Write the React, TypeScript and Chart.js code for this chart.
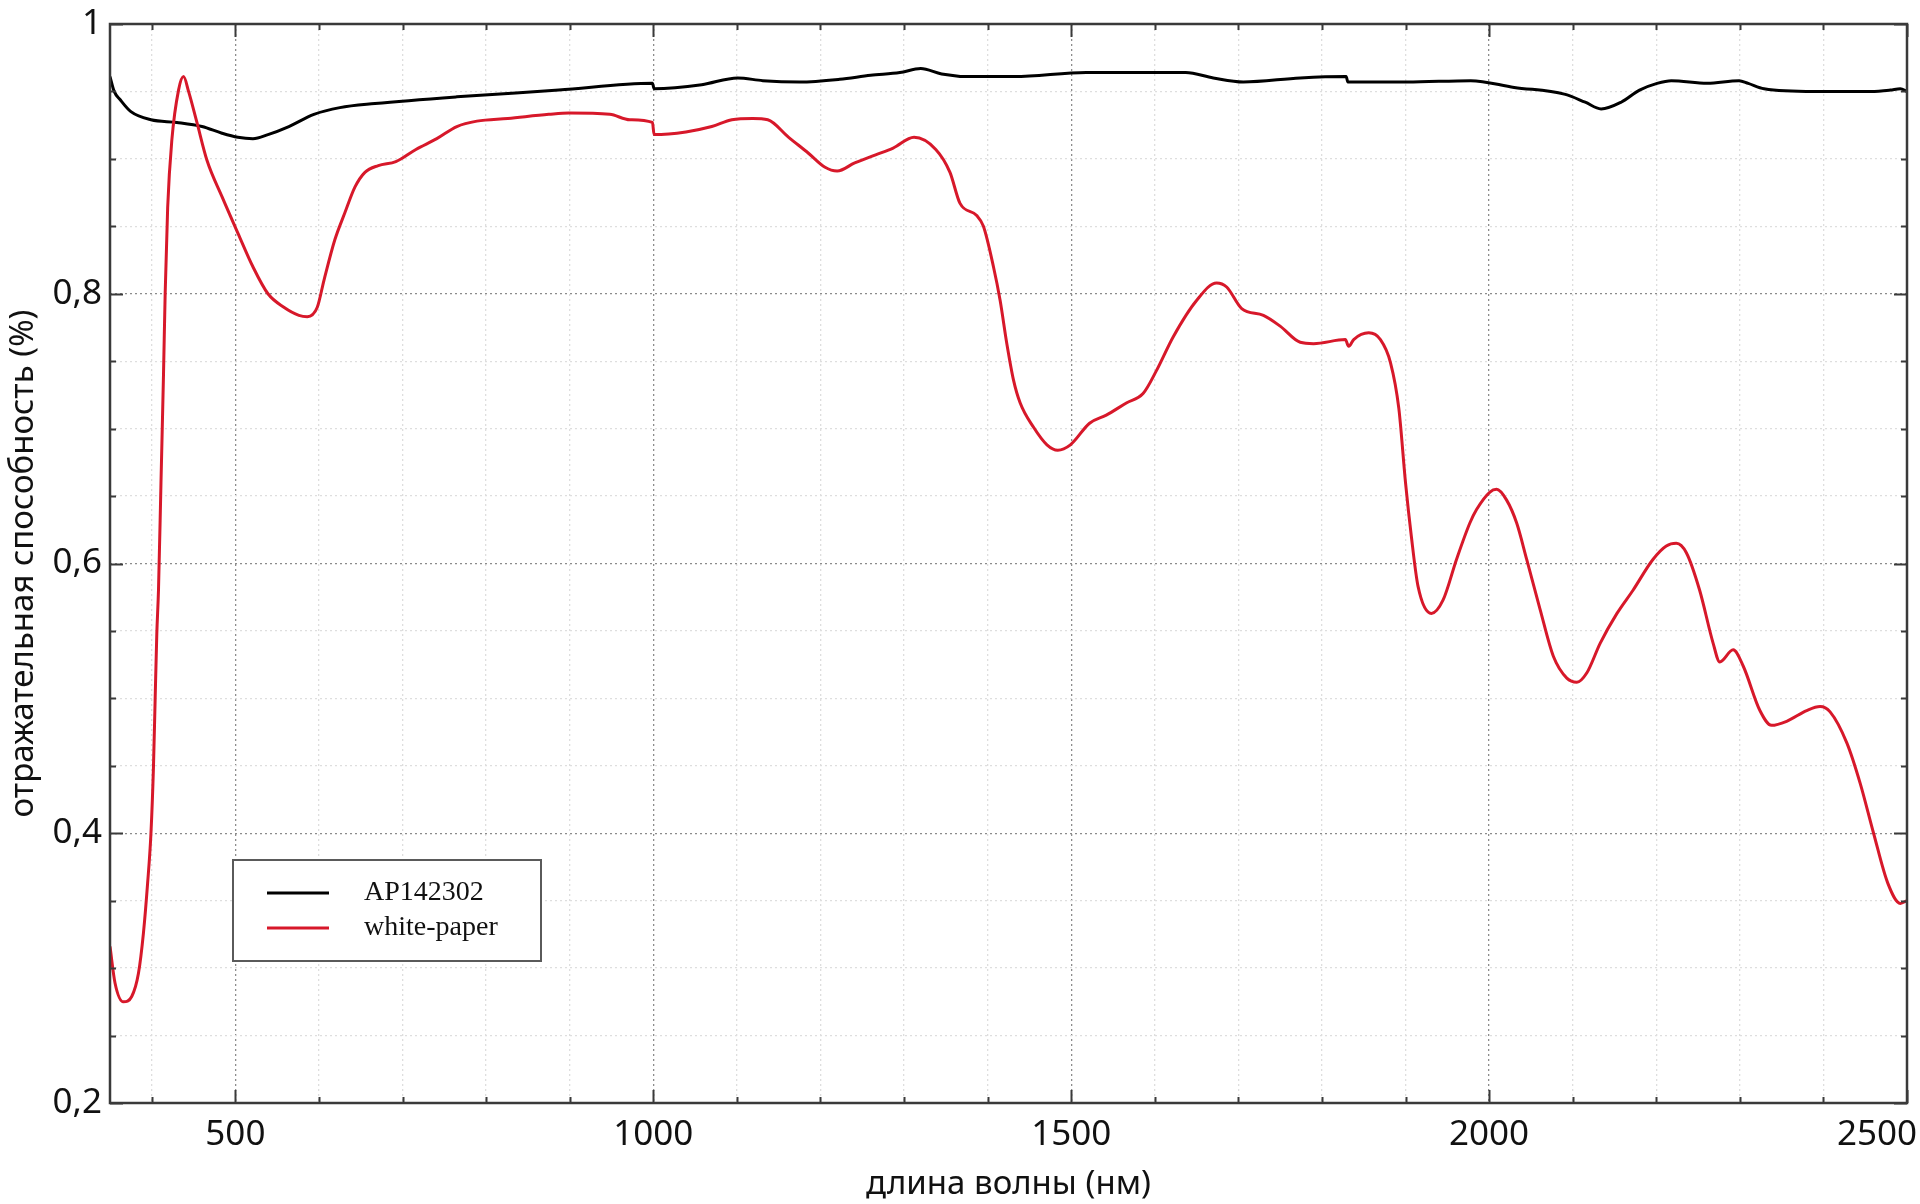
import React, { useEffect, useRef } from "react";
import { Chart, registerables } from "chart.js";

Chart.register(...registerables);

// ---- data ----
const seriesLabels = ["AP142302", "white-paper"];
const seriesColors = ["#000000", "#d7182a"];

const apWavelengths = [
  350, 355, 362, 375, 399, 430, 460, 484, 503, 521, 539, 564, 594, 625, 667, 765, 887, 999, 1001,
  1058, 1101, 1131, 1175, 1223, 1260, 1295, 1320, 1345, 1380, 1432, 1518, 1603, 1637, 1670, 1706,
  1774, 1829, 1831, 1902, 1978, 2030, 2090, 2115, 2134, 2158, 2180, 2201, 2218, 2261, 2299, 2310,
  2329, 2389, 2457, 2480, 2492, 2500,
];
const apValues = [
  0.961, 0.95, 0.944, 0.935, 0.929, 0.927, 0.924, 0.919, 0.916, 0.915, 0.918, 0.924, 0.933, 0.938,
  0.941, 0.946, 0.951, 0.956, 0.952, 0.955, 0.96, 0.958, 0.957, 0.959, 0.962, 0.964, 0.967, 0.963,
  0.961, 0.961, 0.964, 0.964, 0.964, 0.96, 0.957, 0.96, 0.961, 0.957, 0.957, 0.958, 0.953, 0.948,
  0.942, 0.937, 0.942, 0.951, 0.956, 0.958, 0.956, 0.958, 0.956, 0.952, 0.95, 0.95, 0.951, 0.952,
  0.95,
];

const paperWavelengths = [
  350, 356, 366, 376, 384, 390, 395, 399, 402, 404, 406, 408, 411, 414, 416, 419, 424, 432, 438,
  444, 454, 466, 484, 503, 521, 539, 558, 576, 586, 598, 606, 619, 631, 643, 655, 671, 692, 716,
  741, 765, 789, 826, 875, 899, 948, 972, 999, 1001, 1039, 1070, 1094, 1119, 1137, 1162, 1186,
  1205, 1220, 1241, 1266, 1287, 1312, 1338, 1355, 1367, 1387, 1395, 1407, 1415, 1423, 1431, 1439,
  1455, 1471, 1484, 1499, 1522, 1542, 1566, 1586, 1602, 1622, 1650, 1674, 1686, 1704, 1730, 1750,
  1774, 1790, 1828, 1832, 1838, 1856, 1870, 1882, 1892, 1900, 1907, 1915, 1931, 1945, 1961, 1977,
  1985, 2001, 2009, 2021, 2033, 2045, 2061, 2077, 2093, 2105, 2117, 2133, 2153, 2172, 2196, 2212,
  2224, 2236, 2252, 2268, 2276, 2292, 2304, 2324, 2338, 2356, 2380, 2396, 2408, 2428, 2444, 2460,
  2477, 2492, 2500,
];
const paperValues = [
  0.316, 0.289, 0.275, 0.279, 0.296, 0.326, 0.363, 0.4, 0.449, 0.499, 0.548, 0.58, 0.66, 0.74,
  0.8, 0.864, 0.914, 0.951, 0.961, 0.95, 0.927, 0.899, 0.872, 0.845, 0.82, 0.8, 0.79, 0.784, 0.783,
  0.79, 0.81, 0.84, 0.86, 0.879, 0.89, 0.895, 0.898, 0.907, 0.915, 0.924, 0.928, 0.93, 0.933,
  0.934, 0.933, 0.929, 0.927, 0.918, 0.92, 0.924, 0.929, 0.93, 0.929, 0.916, 0.904, 0.894, 0.891,
  0.897, 0.903, 0.908, 0.916, 0.907, 0.89, 0.867, 0.858, 0.85, 0.82, 0.795, 0.763, 0.736, 0.719,
  0.701, 0.688, 0.684, 0.688, 0.704, 0.71, 0.719, 0.726, 0.743, 0.768, 0.795, 0.808, 0.805, 0.789,
  0.784, 0.776, 0.764, 0.763, 0.766, 0.761, 0.766, 0.771, 0.766, 0.749, 0.715, 0.66, 0.62, 0.583,
  0.563, 0.573, 0.603, 0.63, 0.64, 0.653, 0.655, 0.647, 0.63, 0.603, 0.566, 0.531, 0.515, 0.512,
  0.519, 0.541, 0.563, 0.58, 0.603, 0.613, 0.615, 0.608, 0.58, 0.541, 0.527, 0.536, 0.524, 0.491,
  0.48, 0.483, 0.491, 0.494, 0.49, 0.467, 0.437, 0.4, 0.363, 0.348, 0.35,
];

const xTickValues = [
  400, 500, 600, 700, 800, 900, 1000, 1100, 1200, 1300, 1400, 1500, 1600, 1700, 1800, 1900, 2000,
  2100, 2200, 2300, 2400, 2500,
];
const xLabelValues = [500, 1000, 1500, 2000, 2500];
const yTickValues = [
  0.2, 0.25, 0.3, 0.35, 0.4, 0.45, 0.5, 0.55, 0.6, 0.65, 0.7, 0.75, 0.8, 0.85, 0.9, 0.95, 1,
];
const yLabelValues = [0.2, 0.4, 0.6, 0.8, 1];
const yLabelTexts = ["0,2", "0,4", "0,6", "0,8", "1"];

const xTitle = "длина волны (нм)";
const yTitle = "отражательная способность (%)";

const X_MIN = 350;
const X_MAX = 2500;
const Y_MIN = 0.2;
const Y_MAX = 1;

const near = (a: number, b: number) => Math.abs(a - b) < 1e-6;
const isXMajor = (v: number) => xLabelValues.some((m) => near(m, v));
const isYMajor = (v: number) => yLabelValues.some((m) => near(m, v));

const TICK_FONT = "'Noto Sans', 'Liberation Sans', sans-serif";

const framePlugin = {
  id: "frameAndLegend",
  beforeDraw(chart: any) {
    // keep the last x label inside the canvas (right aligned), as in the reference
    const xs = chart.scales.x;
    const items = xs.getLabelItems(chart.chartArea);
    for (const it of items) {
      if (it.label === String(X_MAX)) {
        it.options.textAlign = "right";
        it.options.translation = [chart.width - 3, it.options.translation[1]];
      }
    }
  },
  afterDraw(chart: any) {
    const ctx = chart.ctx;
    const { left, right, top, bottom } = chart.chartArea;
    const xs = chart.scales.x;
    const ys = chart.scales.y;
    ctx.save();
    ctx.strokeStyle = "#3a3a3a";
    ctx.lineWidth = 2;
    // inward tick marks on all four sides
    for (const t of xs.ticks) {
      const px = Math.round(xs.getPixelForValue(t.value)) + 0.5;
      const len = isXMajor(t.value) ? 13 : 6;
      ctx.beginPath();
      ctx.moveTo(px, bottom);
      ctx.lineTo(px, bottom - len);
      ctx.moveTo(px, top);
      ctx.lineTo(px, top + len);
      ctx.stroke();
    }
    for (const t of ys.ticks) {
      const py = Math.round(ys.getPixelForValue(t.value)) + 0.5;
      const len = isYMajor(t.value) ? 13 : 6;
      ctx.beginPath();
      ctx.moveTo(left, py);
      ctx.lineTo(left + len, py);
      ctx.moveTo(right, py);
      ctx.lineTo(right - len, py);
      ctx.stroke();
    }
    // frame
    ctx.lineWidth = 2.5;
    ctx.strokeRect(left, top, right - left, bottom - top);

    // legend box (bottom-left, inside the plot)
    const bx = 233;
    const by = 860;
    const bw = 308;
    const bh = 101;
    ctx.fillStyle = "#ffffff";
    ctx.fillRect(bx, by, bw, bh);
    ctx.strokeStyle = "#5a5a5a";
    ctx.lineWidth = 2;
    ctx.strokeRect(bx, by, bw, bh);
    chart.data.datasets.forEach((ds: any, i: number) => {
      const cy = by + 33 + i * 35;
      ctx.strokeStyle = ds.borderColor;
      ctx.lineWidth = 3;
      ctx.beginPath();
      ctx.moveTo(bx + 34, cy);
      ctx.lineTo(bx + 96, cy);
      ctx.stroke();
      ctx.fillStyle = "#111111";
      ctx.font = "28px 'Liberation Serif', 'Times New Roman', serif";
      ctx.textAlign = "left";
      ctx.textBaseline = "middle";
      ctx.fillText(ds.label, bx + 131, cy);
    });
    ctx.restore();
  },
};

export default function App() {
  const canvasRef = useRef<HTMLCanvasElement | null>(null);

  useEffect(() => {
    const canvas = canvasRef.current;
    if (!canvas) return;
    const chart = new Chart(canvas, {
      type: "line",
      data: {
        datasets: [
          {
            label: seriesLabels[0],
            data: apWavelengths.map((x, i) => ({ x, y: apValues[i] })),
            borderColor: seriesColors[0],
            backgroundColor: seriesColors[0],
            borderWidth: 3,
            pointRadius: 0,
            cubicInterpolationMode: "monotone",
            order: 1,
          },
          {
            label: seriesLabels[1],
            data: paperWavelengths.map((x, i) => ({ x, y: paperValues[i] })),
            borderColor: seriesColors[1],
            backgroundColor: seriesColors[1],
            borderWidth: 3,
            pointRadius: 0,
            cubicInterpolationMode: "monotone",
            order: 0,
          },
        ],
      },
      options: {
        animation: false,
        responsive: true,
        maintainAspectRatio: false,
        layout: { autoPadding: false, padding: { left: 0, top: 24, right: 13, bottom: 0 } },
        plugins: { legend: { display: false }, tooltip: { enabled: false }, title: { display: false } },
        scales: {
          x: {
            type: "linear",
            min: X_MIN,
            max: X_MAX,
            afterBuildTicks: (scale: any) => {
              scale.ticks = xTickValues.map((v) => ({ value: v }));
            },
            afterFit: (scale: any) => {
              scale.height = 101;
              scale.paddingLeft = 0;
              scale.paddingRight = 0;
            },
            ticks: {
              autoSkip: false,
              maxRotation: 0,
              minRotation: 0,
              padding: 11,
              color: "#111111",
              font: { family: TICK_FONT, size: 35 },
              callback: (v: any) => (isXMajor(Number(v)) ? String(v) : ""),
            },
            grid: {
              drawTicks: false,
              color: (c: any) => (c.tick && isXMajor(c.tick.value) ? "#8c8c8c" : "#dedede"),
              lineWidth: 1.3,
            },
            border: { display: false, dash: [2, 3] },
            title: {
              display: true,
              text: xTitle,
              color: "#111111",
              font: { family: TICK_FONT, size: 33 },
              padding: { top: 0, bottom: 0 },
            },
          },
          y: {
            type: "linear",
            min: Y_MIN,
            max: Y_MAX,
            afterBuildTicks: (scale: any) => {
              scale.ticks = yTickValues.map((v) => ({ value: v }));
            },
            afterFit: (scale: any) => {
              scale.width = 110;
              scale.paddingTop = 0;
              scale.paddingBottom = 0;
            },
            ticks: {
              autoSkip: false,
              padding: 8,
              color: "#111111",
              font: { family: TICK_FONT, size: 35 },
              callback: (v: any) => {
                const idx = yLabelValues.findIndex((m) => near(m, Number(v)));
                return idx >= 0 ? yLabelTexts[idx] : "";
              },
            },
            grid: {
              drawTicks: false,
              color: (c: any) => (c.tick && isYMajor(c.tick.value) ? "#8c8c8c" : "#dedede"),
              lineWidth: 1.3,
            },
            border: { display: false, dash: [2, 3] },
            title: {
              display: true,
              text: yTitle,
              color: "#111111",
              font: { family: TICK_FONT, size: 33 },
              padding: { top: 4, bottom: 0 },
            },
          },
        },
      } as any,
      plugins: [framePlugin],
    });
    return () => chart.destroy();
  }, []);

  return (
    <div
      style={{
        position: "absolute",
        left: 0,
        top: 0,
        width: "1920px",
        height: "1204px",
        background: "#ffffff",
      }}
    >
      <canvas ref={canvasRef} />
    </div>
  );
}
